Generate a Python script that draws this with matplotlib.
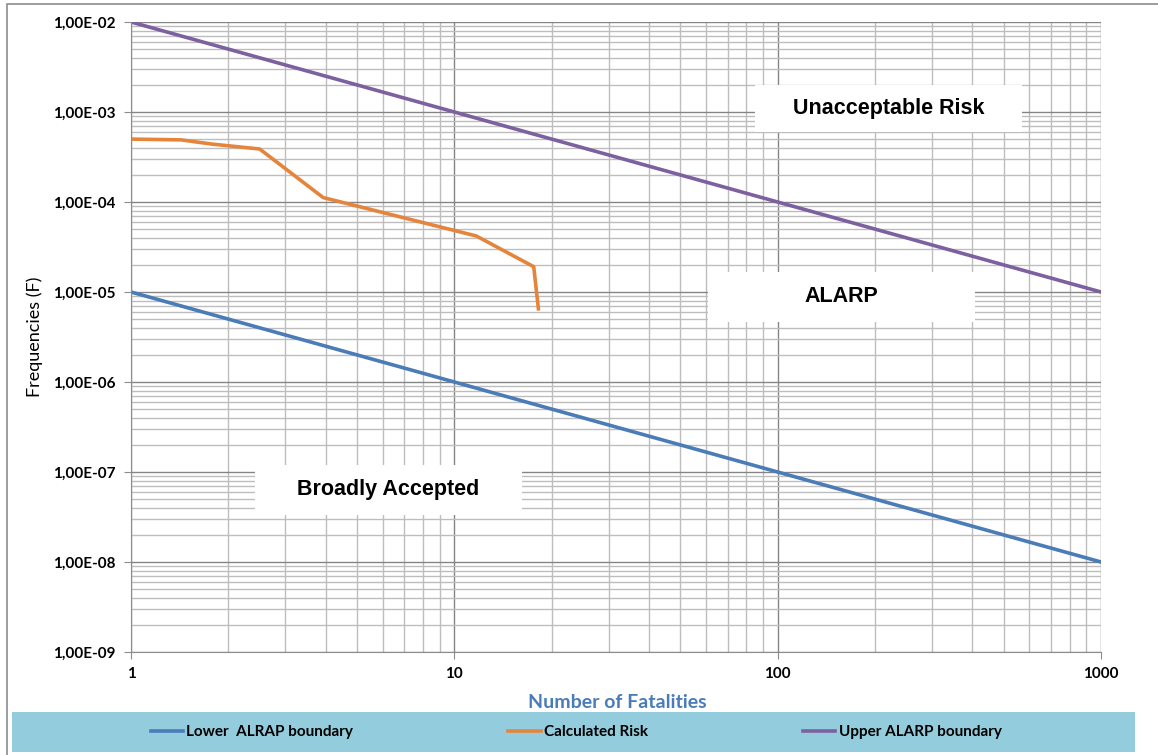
import numpy as np
import matplotlib
matplotlib.use("Agg")
from matplotlib import pyplot as plt
from matplotlib.patches import Rectangle
from matplotlib.ticker import LogLocator, FixedLocator

plt.rcParams['font.family'] = ['Lato', 'DejaVu Sans']

# 数据
n_bound = np.array([1, 1000])
upper_f = np.array([1e-2, 1e-5])
lower_f = np.array([1e-5, 1e-8])

calc_n = np.array([1.0, 1.43, 1.78, 2.5, 3.93, 11.7, 17.6, 18.2])
calc_f = np.array([5.0e-4, 4.9e-4, 4.4e-4, 3.88e-4, 1.12e-4, 4.19e-5, 1.91e-5, 6.5e-6])

y_ticks = [10.0 ** e for e in range(-9, -1)]
y_labels = ["1,00E-%02d" % -e for e in range(-9, -1)]
x_ticks = [1, 10, 100, 1000]
x_labels = ["1", "10", "100", "1000"]

regions = [("Unacceptable Risk", 755, 85, 267, 47),
           ("ALARP", 708, 272, 267, 50),
           ("Broadly Accepted", 255, 465, 267, 50)]

W, H = 1158, 755
fig = plt.figure(figsize=(W / 100, H / 100), dpi=100)

# 外框与图例底色
fig.patches.append(Rectangle((7 / W, -0.1), 1.2, 1 - 4 / H + 0.1, transform=fig.transFigure,
                             fill=False, edgecolor='#8c8c8c', linewidth=1.2, zorder=0))
fig.patches.append(Rectangle((12 / W, 3 / H), (1135 - 12) / W, 40 / H, transform=fig.transFigure,
                             facecolor='#93CDDD', edgecolor='none', zorder=1))

ax = fig.add_axes([131 / W, 1 - 652 / H, (1101 - 131) / W, (652 - 22) / H])
ax.set_xscale('log')
ax.set_yscale('log')
ax.set_xlim(1, 1000)
ax.set_ylim(1e-9, 1e-2)

ax.yaxis.set_major_locator(FixedLocator(y_ticks))
ax.set_yticklabels(y_labels, fontsize=11, fontweight='bold')
ax.xaxis.set_major_locator(FixedLocator(x_ticks))
ax.set_xticklabels(x_labels, fontsize=11, fontweight='bold')
ax.xaxis.set_minor_locator(LogLocator(base=10, subs=np.arange(2, 10)))
ax.yaxis.set_minor_locator(LogLocator(base=10, subs=np.arange(2, 10), numticks=20))
ax.tick_params(which='minor', length=0, labelleft=False, labelbottom=False)
ax.tick_params(which='major', length=5, color='#8c8c8c', pad=6)

ax.grid(which='major', color='#858585', linewidth=1.0)
ax.grid(which='minor', color='#bdbdbd', linewidth=1.0)
ax.set_axisbelow(True)
for s in ['top', 'right']:
    ax.spines[s].set_visible(False)
for s in ['left', 'bottom']:
    ax.spines[s].set_color('#8c8c8c')

l1, = ax.plot(n_bound, lower_f, color='#4A7CB8', linewidth=2.6, label="Lower  ALRAP boundary")
l2, = ax.plot(calc_n, calc_f, color='#E5853C', linewidth=2.6, label="Calculated Risk")
l3, = ax.plot(n_bound, upper_f, color='#7D60A0', linewidth=2.6, label="Upper ALARP boundary")

# 区域文字框
for txt, x0, y0, w, h in regions:
    fig.patches.append(Rectangle((x0 / W, 1 - (y0 + h) / H), w / W, h / H, transform=fig.transFigure,
                                 facecolor='white', edgecolor='none', zorder=3))
    fig.text((x0 + w / 2) / W, 1 - (y0 + h / 2) / H, txt, ha='center', va='center',
             fontsize=15.5, fontweight='bold', family='Liberation Sans', zorder=4)

fig.text(35 / W, 1 - 337 / H, "Frequencies (F)", rotation=90, ha='center', va='center', fontsize=13)
fig.text(617 / W, 1 - 703 / H, "Number of Fatalities", ha='center', va='center',
         fontsize=14, fontweight='bold', color='#4A7CB8')

fig.legend(handles=[l1, l2, l3], loc='center', bbox_to_anchor=(576 / W, 1 - 732 / H), ncol=3,
           frameon=False, prop={'size': 11, 'weight': 'bold'}, handlelength=2.1,
           handletextpad=0.2, columnspacing=10.2)

fig.savefig("out.png", dpi=100)
